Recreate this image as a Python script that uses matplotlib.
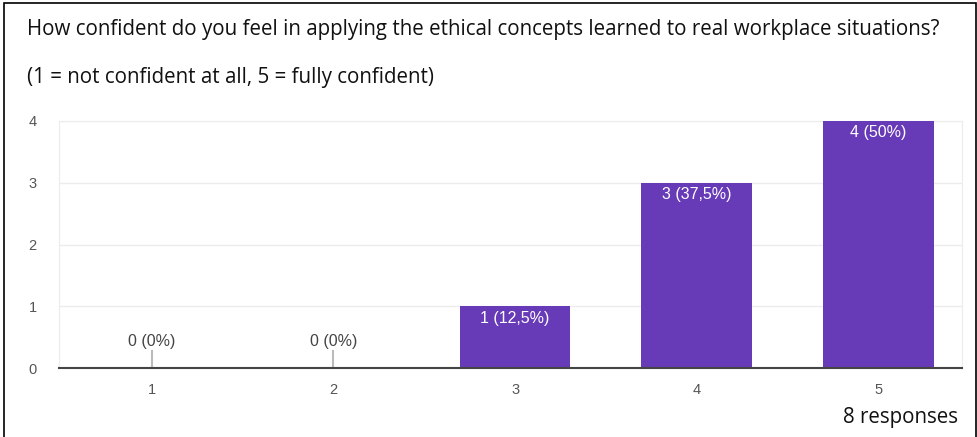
import matplotlib
matplotlib.use("Agg")
import matplotlib.pyplot as plt
from matplotlib.patches import Rectangle

# data
ratings = [1, 2, 3, 4, 5]
counts = [0, 0, 1, 3, 4]
labels = ["0 (0%)", "0 (0%)", "1 (12,5%)", "3 (37,5%)", "4 (50%)"]
title = "How confident do you feel in applying the ethical concepts learned to real workplace situations?"
subtitle = "(1 = not confident at all, 5 = fully confident)"
footer = "8 responses"

W, H = 977, 437
fig = plt.figure(figsize=(W / 100, H / 100), dpi=100)
fig.patch.set_facecolor("white")

# outer frame
fig.patches.append(Rectangle((4 / W, -0.05), (W - 5) / W, 1.05 - 3 / H,
                             transform=fig.transFigure, fill=False,
                             ec="black", lw=1.2))

ax = fig.add_axes([59 / W, 1 - 368 / H, (962 - 59) / W, (368 - 121) / H])
purple = "#673ab7"
ax.bar(ratings, counts, width=0.61, color=purple, zorder=3)
ax.set_xlim(0.49, 5.46)
ax.set_ylim(0, 4)

ax.set_yticks([0, 1, 2, 3, 4])
ax.set_xticks(ratings)
ax.grid(axis="y", color="#ececec", lw=1, zorder=0)
ax.tick_params(length=0, labelsize=10.5, labelcolor="#555555", pad=16)
ax.tick_params(axis="x", pad=11)
for s in ["left", "right", "top"]:
    ax.spines[s].set_color("#ececec")
ax.spines["bottom"].set_color("#444444")
ax.spines["bottom"].set_linewidth(1.5)
ax.spines["bottom"].set_zorder(4)

for x, c, lab in zip(ratings, counts, labels):
    if c == 0:
        ax.plot([x, x], [0, 0.27], color="#bbbbbb", lw=1.5, zorder=3)
        ax.text(x, 0.31, lab, ha="center", va="bottom", fontsize=11.5,
                color="#444444", family="Liberation Sans")
    else:
        ax.text(x, c - 0.07, lab, ha="center", va="top", fontsize=11.5,
                color="white", family="Liberation Sans")

for t in ax.get_xticklabels() + ax.get_yticklabels():
    t.set_family("Liberation Sans")

fig.text(27 / W, 1 - 30 / H, title, fontsize=14.8, family="Open Sans",
         va="center", ha="left", color="#111111")
fig.text(27 / W, 1 - 78 / H, subtitle, fontsize=14.8, family="Open Sans",
         va="center", ha="left", color="#111111")
fig.text(958 / W, 1 - 417 / H, footer, fontsize=14.8, family="Open Sans",
         va="center", ha="right", color="#111111")

fig.savefig("out.png", dpi=100)
